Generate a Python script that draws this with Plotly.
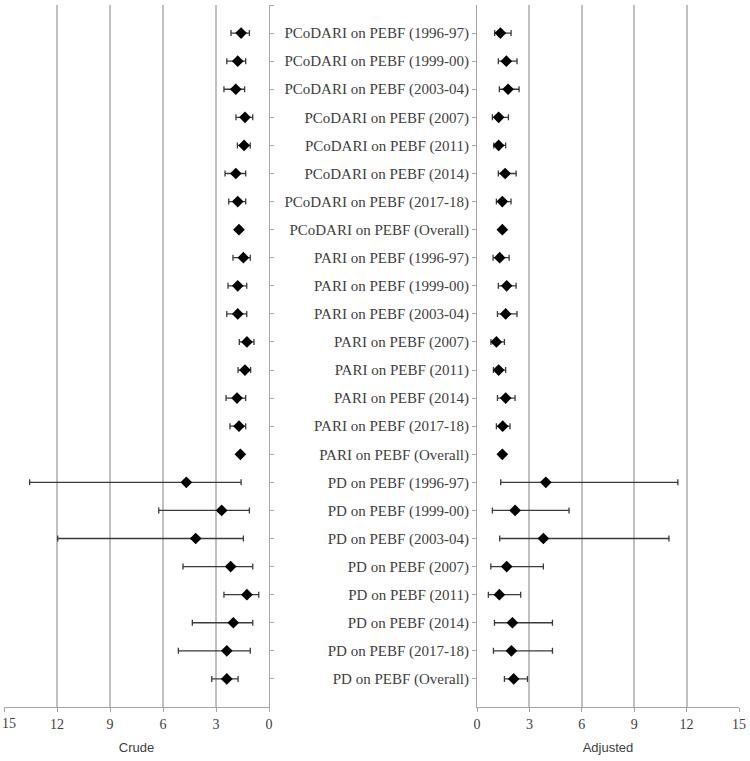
import plotly.graph_objects as go

labels = [
    "PCoDARI on PEBF (1996-97)", "PCoDARI on PEBF (1999-00)", "PCoDARI on PEBF (2003-04)",
    "PCoDARI on PEBF (2007)", "PCoDARI on PEBF (2011)", "PCoDARI on PEBF (2014)",
    "PCoDARI on PEBF (2017-18)", "PCoDARI on PEBF (Overall)",
    "PARI on PEBF (1996-97)", "PARI on PEBF (1999-00)", "PARI on PEBF (2003-04)",
    "PARI on PEBF (2007)", "PARI on PEBF (2011)", "PARI on PEBF (2014)",
    "PARI on PEBF (2017-18)", "PARI on PEBF (Overall)",
    "PD on PEBF (1996-97)", "PD on PEBF (1999-00)", "PD on PEBF (2003-04)",
    "PD on PEBF (2007)", "PD on PEBF (2011)", "PD on PEBF (2014)",
    "PD on PEBF (2017-18)", "PD on PEBF (Overall)",
]

crude_est = [1.58, 1.77, 1.88, 1.36, 1.41, 1.88, 1.77, 1.70,
             1.45, 1.77, 1.77, 1.25, 1.36, 1.81, 1.70, 1.62,
             4.68, 2.68, 4.15, 2.17, 1.25, 2.02, 2.39, 2.39]
crude_low = [1.11, 1.32, 1.38, 0.92, 1.06, 1.32, 1.32, 1.60,
             1.06, 1.26, 1.26, 0.85, 1.04, 1.32, 1.32, 1.52,
             1.58, 1.11, 1.45, 0.92, 0.58, 0.92, 1.06, 1.75]
crude_high = [2.15, 2.39, 2.55, 1.87, 1.79, 2.49, 2.28, 1.80,
              2.04, 2.32, 2.39, 1.68, 1.75, 2.43, 2.21, 1.72,
              13.55, 6.24, 11.96, 4.87, 2.55, 4.34, 5.13, 3.24]

adj_est = [1.34, 1.68, 1.78, 1.24, 1.24, 1.61, 1.45, 1.45,
           1.30, 1.70, 1.64, 1.11, 1.24, 1.64, 1.47, 1.45,
           3.94, 2.18, 3.80, 1.70, 1.28, 2.03, 1.97, 2.10]
adj_low = [1.01, 1.22, 1.28, 0.88, 0.96, 1.22, 1.11, 1.35,
           0.92, 1.22, 1.17, 0.80, 0.94, 1.17, 1.11, 1.35,
           1.36, 0.88, 1.30, 0.79, 0.65, 1.00, 0.94, 1.57]
adj_high = [1.95, 2.29, 2.41, 1.80, 1.64, 2.24, 1.95, 1.55,
            1.84, 2.24, 2.29, 1.57, 1.64, 2.18, 1.89, 1.55,
            11.50, 5.27, 10.99, 3.80, 2.50, 4.32, 4.32, 2.89]

x_ticks = [0, 3, 6, 9, 12, 15]

rows = list(range(1, len(labels) + 1))

W, H = 750, 761
ml, mr, mt, mb = 4, 11, 5, 54
pw = W - ml - mr
left_end = (269 - ml) / pw
right_start = (477 - ml) / pw

grid = "#c0c0c0"
axis_c = "#a6a6a6"
txt = "#404040"
serif = "Liberation Serif"
sans = "Liberation Sans"

def trace(est, lo, hi, xa, ya):
    return go.Scatter(
        x=est, y=rows, mode="markers",
        marker=dict(symbol="diamond", size=9, color="black"),
        error_x=dict(type="data", symmetric=False,
                     array=[h - e for h, e in zip(hi, est)],
                     arrayminus=[e - l for e, l in zip(est, lo)],
                     color="#3a3a3a", thickness=1.3, width=3),
        xaxis=xa, yaxis=ya, showlegend=False, hoverinfo="skip",
    )

fig = go.Figure()
fig.add_trace(trace(crude_est, crude_low, crude_high, "x", "y"))
fig.add_trace(trace(adj_est, adj_low, adj_high, "x2", "y2"))

xcommon = dict(showgrid=True, gridcolor=grid, gridwidth=1.5,
               showline=True, linecolor=axis_c, linewidth=1,
               ticks="outside", ticklen=4, tickcolor=axis_c,
               zeroline=False, automargin=False,
               tickfont=dict(family=serif, size=14, color=txt),
               title_font=dict(family=sans, size=13, color=txt),
               title_standoff=12)

fig.update_layout(
    width=W, height=H,
    margin=dict(l=ml, r=mr, t=mt, b=mb),
    paper_bgcolor="white", plot_bgcolor="white",
    xaxis=dict(domain=[0, left_end], range=[15, 0], title_text="Crude",
               anchor="y", tickvals=x_ticks,
               ticktext=["" if v == 15 else str(v) for v in x_ticks], **xcommon),
    xaxis2=dict(domain=[right_start, 1], range=[0, 15], title_text="Adjusted",
                anchor="y2", tickvals=x_ticks,
                ticktext=[str(v) for v in x_ticks], **xcommon),
    yaxis=dict(range=[25, 0], domain=[0, 1], anchor="x", side="right",
               tickvals=[0] + rows, showticklabels=False, showgrid=False,
               showline=True, linecolor=axis_c, linewidth=1, automargin=False,
               ticks="outside", ticklen=4, tickcolor=axis_c, zeroline=False),
    yaxis2=dict(range=[25, 0], domain=[0, 1], anchor="x2", side="left",
                tickvals=rows, ticktext=labels, showgrid=False,
                showline=True, linecolor=axis_c, linewidth=1, automargin=False,
                ticks="outside", ticklen=4, tickcolor=axis_c, zeroline=False,
                tickfont=dict(family=serif, size=15, color=txt)),
)

# "15" tick label at the left edge of the crude panel (kept inside the page)
fig.add_annotation(x=x_ticks[-1], xref="x", y=0, yref="paper", text=str(x_ticks[-1]),
                   showarrow=False, xanchor="left", yanchor="top", xshift=-4, yshift=-7,
                   font=dict(family=serif, size=14, color=txt))

fig.write_html("out.html", config={"displayModeBar": False},
               post_script="document.body.style.margin='0';document.body.style.padding='0';")
